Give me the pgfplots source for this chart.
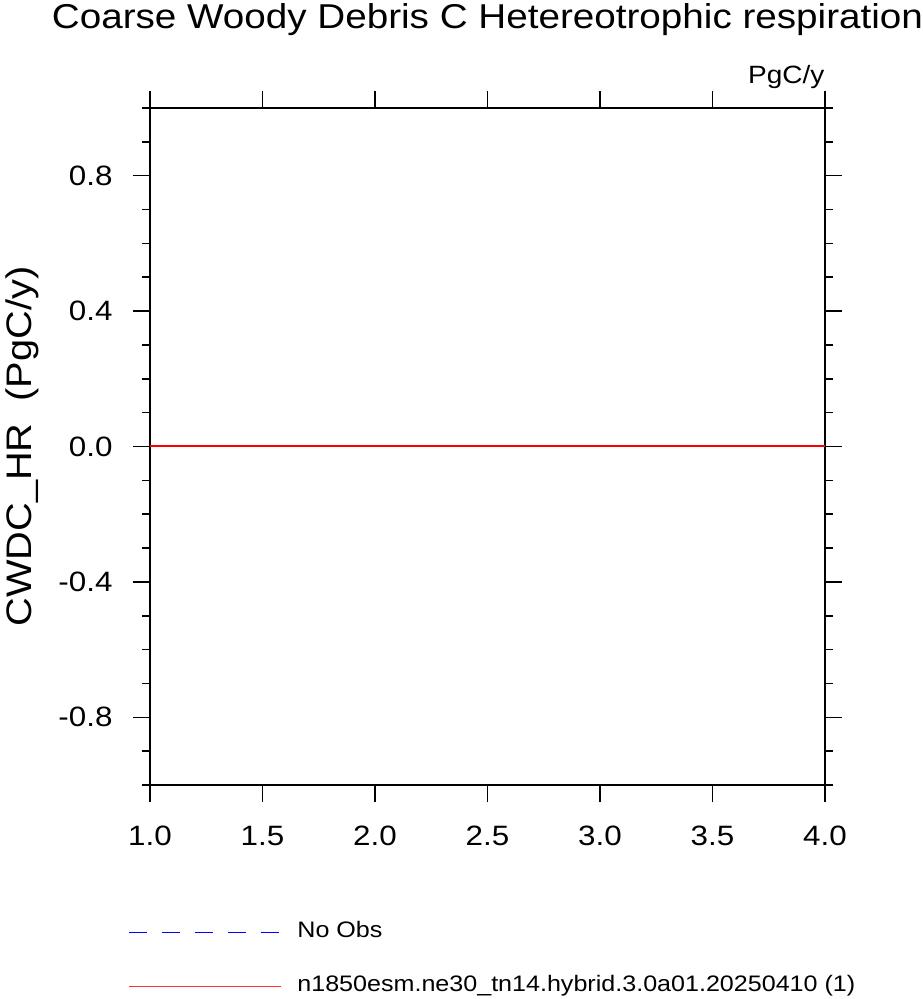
\documentclass[border=0pt]{standalone}
\usepackage{fontspec}
\setmainfont{Liberation Sans}[FakeStretch=1.12]
\usepackage{pgfplots}
\pgfplotsset{compat=1.18}
\begin{document}
\begin{tikzpicture}
\useasboundingbox (-150pt,-214pt) rectangle (773pt,785pt);
\begin{axis}[
  at={(0pt,0pt)}, anchor=south west, scale only axis,
  width=675pt, height=677pt,
  xmin=1, xmax=4, ymin=-1, ymax=1,
  xtick={1,1.5,2,2.5,3,3.5,4},
  ytick={-0.8,-0.4,0,0.4,0.8},
  minor ytick={-1,-0.9,-0.7,-0.6,-0.5,-0.3,-0.2,-0.1,0.1,0.2,0.3,0.5,0.6,0.7,0.9,1},
  tick align=outside,
  major tick length=17pt, minor tick length=8pt,
  tick style={black, line width=1.6pt},
  major tick style={black, line width=1.6pt},
  minor tick style={black, line width=1.6pt},
  separate axis lines,
  axis line style={black, line width=1.8pt},
  /pgf/number format/assume math mode=true,
  /pgf/number format/.cd, fixed, fixed zerofill, precision=1, /pgfplots/.cd,
  tick label style={font=\fontsize{28}{32}\selectfont},
  xticklabel style={anchor=base, yshift=-43pt},
  yticklabel style={xshift=-17pt},
  ylabel={CWDC\_HR\ \ (PgC/y)},
  ylabel style={font=\fontsize{35.5}{40}\selectfont, at={(axis description cs:-0.1896,0.5)}, anchor=center},
  title={Coarse Woody Debris C Hetereotrophic respiration},
  title style={font=\fontsize{34.5}{38}\selectfont, at={(axis description cs:0.5,1)}, anchor=base, yshift=73pt},
  legend style={draw=none, fill=none, inner sep=0pt,
    at={(axis description cs:-0.0326,-0.2015)}, anchor=north west,
    font=\fontsize{22.4}{24}\selectfont,
    nodes={inner sep=0pt, text height=16pt, text depth=5pt},
    row sep=33pt, column sep=16pt},
  legend cell align=left,
  legend image code/.code={\draw[#1] (0pt,0pt) -- (152pt,0pt);},
  clip=false,
]
\addlegendimage{blue, line width=0.9pt, dash pattern=on 18pt off 15pt}
\addlegendentry{No Obs}
\addplot[red, line width=2pt, forget plot] coordinates {(1,0) (1.5,0) (2,0) (2.5,0) (3,0) (3.5,0) (4,0)};
\addlegendimage{red!80!white, line width=1.2pt}
\addlegendentry{n1850esm.ne30\_tn14.hybrid.3.0a01.20250410 (1)}
\node[font=\fontsize{25}{28}\selectfont, anchor=base east] at (axis description cs:1,1) [yshift=24pt, xshift=3pt] {PgC/y};
\end{axis}
\end{tikzpicture}
\end{document}
